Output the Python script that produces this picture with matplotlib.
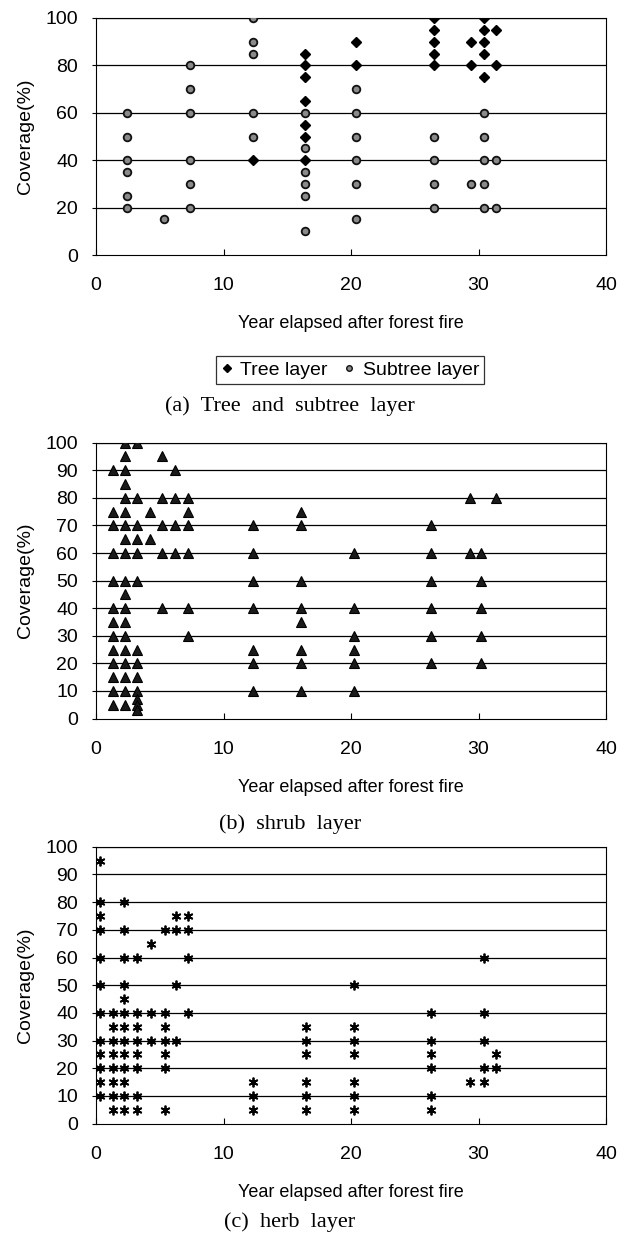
import numpy as np
import matplotlib
matplotlib.use('Agg')
import matplotlib.pyplot as plt
from matplotlib.lines import Line2D

# ---- data (year column, coverage values) ----
# (a) tree and subtree layer
tree_years = [12.3, 16.4, 20.4, 26.5, 29.4, 30.4, 31.4]
tree_cov = [[40],
            [85, 80, 75, 65, 55, 50, 40],
            [90, 80],
            [100, 95, 90, 85, 80],
            [90, 80],
            [100, 95, 90, 85, 75],
            [95, 80]]

subtree_years = [2.4, 5.3, 7.4, 12.3, 16.4, 20.4, 26.5, 29.4, 30.4, 31.4]
subtree_cov = [[60, 50, 40, 35, 25, 20],
               [15],
               [80, 70, 60, 40, 30, 20],
               [100, 90, 85, 60, 50],
               [60, 45, 35, 30, 25, 10],
               [70, 60, 50, 40, 30, 15],
               [50, 40, 30, 20],
               [30],
               [60, 50, 40, 30, 20],
               [40, 20]]

# (b) shrub layer
shrub_years = [1.3, 2.3, 3.2, 4.2, 5.2, 6.2, 7.2, 12.3, 16.1, 20.2, 26.3, 29.3, 30.2, 31.4]
shrub_cov = [[90, 75, 70, 60, 50, 40, 35, 30, 25, 20, 15, 10, 5],
             [100, 95, 90, 85, 80, 75, 70, 65, 60, 50, 45, 40, 35, 30, 25, 20, 15, 10, 5],
             [100, 80, 70, 65, 60, 50, 25, 20, 15, 10, 7, 5, 3],
             [75, 65],
             [95, 80, 70, 60, 40],
             [90, 80, 70, 60],
             [80, 75, 70, 60, 40, 30],
             [70, 60, 50, 40, 25, 20, 10],
             [75, 70, 50, 40, 35, 25, 20, 10],
             [60, 40, 30, 25, 20, 10],
             [70, 60, 50, 40, 30, 20],
             [80, 60],
             [60, 50, 40, 30, 20],
             [80]]

# (c) herb layer
herb_years = [0.3, 1.3, 2.2, 3.2, 4.3, 5.4, 6.3, 7.2, 12.3, 16.5, 20.2, 26.3, 29.3, 30.4, 31.4]
herb_cov = [[95, 80, 75, 70, 60, 50, 40, 30, 25, 20, 15, 10],
            [40, 35, 30, 25, 20, 15, 10, 5],
            [80, 70, 60, 50, 45, 40, 35, 30, 25, 20, 15, 10, 5],
            [60, 40, 35, 30, 25, 20, 10, 5],
            [65, 40, 30],
            [70, 40, 35, 30, 25, 20, 5],
            [75, 70, 50, 30],
            [75, 70, 60, 40],
            [15, 10, 5],
            [35, 30, 25, 15, 10, 5],
            [50, 35, 30, 25, 15, 10, 5],
            [40, 30, 25, 20, 10, 5],
            [15],
            [60, 40, 30, 20, 15],
            [25, 20]]

xlabel = 'Year elapsed after forest fire'
ylabel = 'Coverage(%)'
captions = ['(a)  Tree  and  subtree  layer', '(b)  shrub  layer', '(c)  herb  layer']


def expand(years, covs):
    xs, ys = [], []
    for yr, cv in zip(years, covs):
        xs += [yr] * len(cv)
        ys += cv
    return np.array(xs), np.array(ys)


sans = ['Liberation Sans', 'DejaVu Sans']
serif = ['Liberation Serif', 'DejaVu Serif']
plt.rcParams['font.family'] = sans
plt.rcParams['axes.linewidth'] = 0.8

fig = plt.figure(figsize=(6.35, 12.34), dpi=100)
W, H = 635, 1234


def make_ax(top, bottom):
    return fig.add_axes([96 / W, 1 - bottom / H, 510 / W, (bottom - top) / H])


def style(ax, ystep):
    ax.set_xlim(0, 40)
    ax.set_ylim(0, 100)
    ax.set_xticks([0, 10, 20, 30, 40])
    ax.set_yticks(np.arange(0, 101, ystep))
    for y in np.arange(ystep, 101, ystep):
        ax.axhline(y, color='black', lw=0.9, zorder=1)
    ax.tick_params(axis='x', direction='in', length=4, pad=16, labelsize=14)
    ax.tick_params(axis='y', direction='out', length=3, pad=10, labelsize=14)
    ax.set_xlabel(xlabel, fontsize=13, labelpad=15)
    ax.set_ylabel(ylabel, fontsize=14, labelpad=8)
    for s in ax.spines.values():
        s.set_color('black')


# (a)
ax1 = make_ax(18, 255)
style(ax1, 20)
tx, ty = expand(tree_years, tree_cov)
sx, sy = expand(subtree_years, subtree_cov)
ax1.plot(sx, sy, 'o', ms=5.5, mfc='#8a8a8a', mec='#111111', mew=1.3, ls='none', zorder=3)
ax1.plot(tx, ty, 'D', ms=5.5, mfc='black', mec='black', ls='none', zorder=3)

handles = [Line2D([], [], marker='D', ms=4, color='black', ls='none'),
           Line2D([], [], marker='o', ms=4, mfc='#8a8a8a', mec='#111111', mew=1, ls='none')]
leg = fig.legend(handles, ['Tree layer', 'Subtree layer'], loc='center',
                 bbox_to_anchor=(350 / W, 1 - 370 / H), ncol=2, frameon=True,
                 fancybox=False, edgecolor='black', fontsize=14, handlelength=0.6,
                 handletextpad=0.4, columnspacing=0.8, borderpad=0.25)
leg.get_frame().set_linewidth(0.9)

# (b)
ax2 = make_ax(442.7, 718.5)
style(ax2, 10)
bx, by = expand(shrub_years, shrub_cov)
ax2.plot(bx, by, '^', ms=7, mfc='#1a1a1a', mec='black', mew=0.8, ls='none', zorder=3)

# (c)
ax3 = make_ax(846.7, 1123.7)
style(ax3, 10)
hx, hy = expand(herb_years, herb_cov)
ax3.plot(hx, hy, marker=(6, 2, 0), ms=7, mec='black', mew=1.3, ls='none', zorder=3)

for cap, yc in zip(captions, [406, 824, 1222]):
    fig.text(290 / W, 1 - yc / H, cap, ha='center', va='center', fontsize=16, family=serif)

fig.savefig('out.png', dpi=100, facecolor='white')
